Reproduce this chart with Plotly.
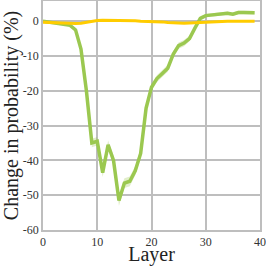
import plotly.graph_objects as go

layers = list(range(40))
green = [0, -0.2, -0.4, -0.6, -0.9, -1.2, -2.5, -8, -20, -35,
         -34.5, -43.5, -35.5, -40, -51.5, -46.5, -46, -43, -38, -25,
         -19, -16.5, -15, -13.5, -9.5, -7, -6.3, -5, -2, 0.8,
         1.6, 1.8, 1.8, 2.0, 2.3, 2.0, 2.5, 2.5, 2.5, 2.4]
green_err = [0.2, 0.2, 0.2, 0.3, 0.3, 0.4, 0.5, 0.8, 1.0, 1.2,
             1.2, 1.3, 1.2, 1.3, 1.5, 1.4, 1.4, 1.3, 1.2, 1.1,
             1.0, 1.0, 1.0, 1.0, 0.9, 0.9, 0.9, 0.8, 0.7, 0.6,
             0.5, 0.5, 0.5, 0.5, 0.5, 0.5, 0.5, 0.5, 0.5, 0.5]
yellow = [-0.3, -0.4, -0.5, -0.6, -0.7, -0.7, -0.7, -0.6, -0.3, 0,
          0.2, 0.3, 0.3, 0.2, 0.2, 0.1, 0.1, 0.1, 0, 0,
          0, -0.1, -0.2, -0.4, -0.5, -0.6, -0.6, -0.5, -0.4, -0.3,
          -0.2, -0.1, -0.1, 0, 0, 0, 0, 0, 0, 0]
x_ticks = [0, 10, 20, 30, 40]
y_ticks = [0, -10, -20, -30, -40, -50, -60]

GREEN = "#9bc850"
YELLOW = "#ffcc00"
GRID = "rgb(190,190,190)"

upper = [g + e for g, e in zip(green, green_err)]
lower = [g - e for g, e in zip(green, green_err)]

fig = go.Figure()
fig.add_trace(go.Scatter(x=layers, y=upper, mode="lines", line=dict(width=0),
                         showlegend=False, hoverinfo="skip"))
fig.add_trace(go.Scatter(x=layers, y=lower, mode="lines", line=dict(width=0),
                         fill="tonexty", fillcolor="rgba(155,200,80,0.3)",
                         showlegend=False, hoverinfo="skip"))
fig.add_trace(go.Scatter(x=layers, y=green, mode="lines",
                         line=dict(color=GREEN, width=3.5), showlegend=False))
fig.add_trace(go.Scatter(x=layers, y=yellow, mode="lines",
                         line=dict(color=YELLOW, width=3), showlegend=False))

axis_common = dict(showgrid=True, gridcolor=GRID, gridwidth=1.5,
                   showline=True, linecolor=GRID, linewidth=1.5, mirror=True,
                   zeroline=False, ticks="", automargin=False,
                   tickfont=dict(family="Liberation Serif", size=12, color="#333"))

fig.update_layout(
    width=266, height=266,
    margin=dict(l=43, r=6, t=1, b=36),
    paper_bgcolor="white", plot_bgcolor="white",
    font=dict(family="Liberation Serif", color="#222"),
    xaxis=dict(range=[0, 40], tickmode="array", tickvals=x_ticks,
               title=dict(text="Layer", font=dict(size=20, family="Liberation Serif", color="#222"), standoff=0),
               **axis_common),
    yaxis=dict(range=[-60, 5.8], tickmode="array", tickvals=y_ticks,
               ticktext=[str(v) for v in y_ticks],
               title=dict(text="Change in probability (%)", font=dict(size=20, family="Liberation Serif", color="#222"), standoff=0),
               **axis_common),
)

fig.write_html("out.html", config={"displayModeBar": False},
               post_script="document.body.style.margin='0';document.body.style.padding='0';")
